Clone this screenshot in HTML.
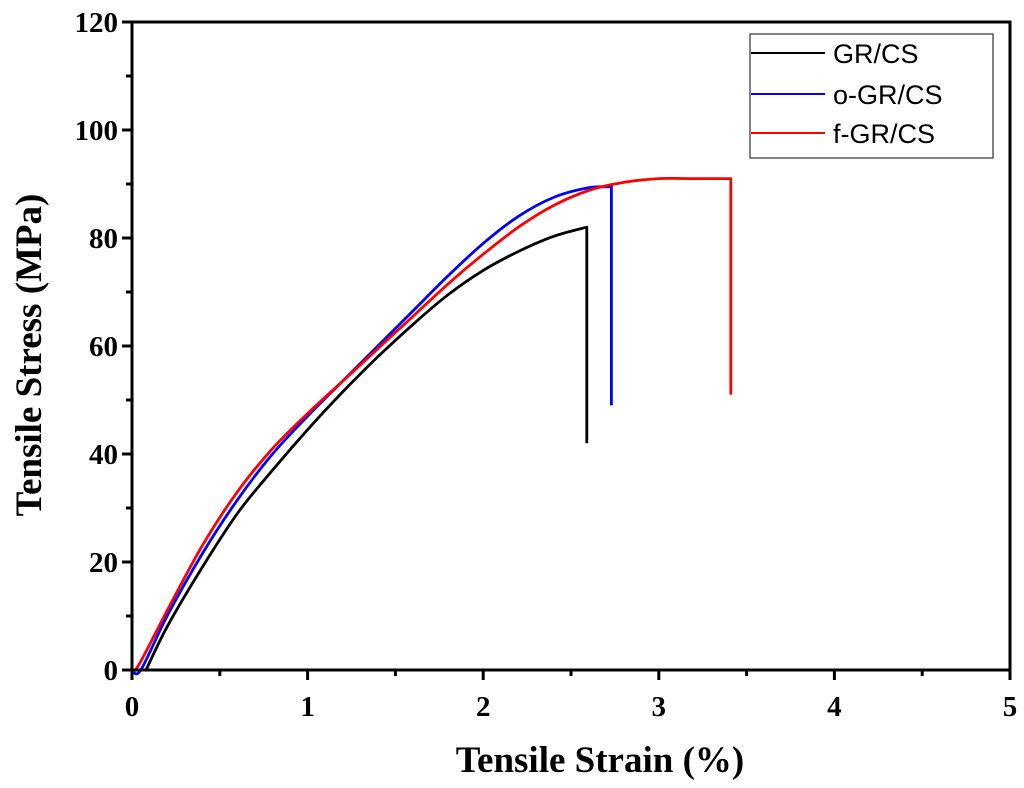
<!DOCTYPE html>
<html><head><meta charset="utf-8"><style>
html,body{margin:0;padding:0;background:#fff;}
svg{display:block;}
.tick{font-family:"Liberation Serif",serif;font-weight:bold;font-size:29px;fill:#000;}
.title{font-family:"Liberation Serif",serif;font-weight:bold;font-size:37px;fill:#000;}
.leg{font-family:"Liberation Sans",sans-serif;font-size:27px;fill:#000;}
</style></head><body>
<svg id="chart" width="1024" height="788" viewBox="0 0 1024 788" xmlns="http://www.w3.org/2000/svg">
<g id="marks"></g>
<g id="axes"></g>
<text class="title" x="600" y="772" text-anchor="middle">Tensile Strain (%)</text>
<text class="title" transform="translate(41,355) rotate(-90)" text-anchor="middle">Tensile Stress (MPa)</text>
<g>
<rect x="750" y="34" width="243" height="124" fill="#fff" stroke="#333" stroke-width="1.2"/>
<line x1="751" y1="53" x2="825" y2="53" stroke="#000" stroke-width="2"/>
<text class="leg" x="833" y="63">GR/CS</text>
<line x1="751" y1="94" x2="825" y2="94" stroke="#0000ff" stroke-width="2"/>
<text class="leg" x="833" y="104">o-GR/CS</text>
<line x1="751" y1="133" x2="825" y2="133" stroke="#ff0000" stroke-width="2"/>
<text class="leg" x="833" y="143">f-GR/CS</text>
</g>
</svg>
<script>
const xTicks=[0,1,2,3,4,5];
const yTicks=[0,20,40,60,80,100,120];
const grX=[0.08,0.2,0.4,0.6,0.8,1,1.2,1.4,1.6,1.8,2,2.2,2.4,2.59,2.59];
const grY=[0,8,19,29,37,44.5,51.5,58,64,69.5,74,77.5,80.3,82,42];
const oX=[0,0.05,0.2,0.4,0.6,0.8,1,1.2,1.4,1.6,1.8,2,2.2,2.4,2.6,2.73,2.73];
const oY=[0,0,10,21.5,31.5,40,47,53.5,60,66.5,73,79,84,87.5,89.3,89.5,49];
const fX=[0,0.04,0.2,0.4,0.6,0.8,1,1.2,1.4,1.6,1.8,2,2.2,2.4,2.6,2.8,3,3.2,3.41,3.41];
const fY=[0,1,11,23,33,41,47.5,53.5,59.5,65.5,71.5,77,82,86,88.8,90.3,91,91,91,51];
const X0=132,X1=1010,Y0=670,Y1=22;
const sx=v=>X0+(v-0)/(5-0)*(X1-X0);
const sy=v=>Y0-(v-0)/(120-0)*(Y0-Y1);
const NS="http://www.w3.org/2000/svg";
const marks=document.getElementById('marks'),axes=document.getElementById('axes');
function mk(t,a,p){const e=document.createElementNS(NS,t);for(const k in a)e.setAttribute(k,a[k]);p.appendChild(e);return e;}
function series(xs,ys,col,name){
 const P=xs.map((x,i)=>[sx(x),sy(ys[i])]);
 const n=P.length-1; // last point is the drop
 let d='M'+P[0][0].toFixed(1)+','+P[0][1].toFixed(1);
 for(let i=0;i<n-1;i++){
  const p0=P[Math.max(i-1,0)],p1=P[i],p2=P[i+1],p3=P[Math.min(i+2,n-1)];
  const c1=[p1[0]+(p2[0]-p0[0])/6,p1[1]+(p2[1]-p0[1])/6];
  const c2=[p2[0]-(p3[0]-p1[0])/6,p2[1]-(p3[1]-p1[1])/6];
  d+=' C'+c1.map(v=>v.toFixed(1)).join(',')+' '+c2.map(v=>v.toFixed(1)).join(',')+' '+p2.map(v=>v.toFixed(1)).join(',');
 }
 d+=' L'+P[n][0].toFixed(1)+','+P[n][1].toFixed(1);
 const el=mk('path',{d:d,fill:'none',stroke:col,'stroke-width':2.8,'stroke-linejoin':'round'},marks);
 
 
}
series(grX,grY,'#000','series-gr-cs');
series(oX,oY,'#0000ff','series-o-gr-cs');
series(fX,fY,'#ff0000','series-f-gr-cs');
const frame=mk('rect',{x:X0,y:Y1,width:X1-X0,height:Y0-Y1,fill:'none',stroke:'#000','stroke-width':3},axes);


xTicks.forEach((t,i)=>{
 mk('line',{x1:sx(t),y1:Y0,x2:sx(t),y2:Y0+10,stroke:'#000','stroke-width':3},axes);
 if(i<xTicks.length-1) mk('line',{x1:sx(t+0.5),y1:Y0,x2:sx(t+0.5),y2:Y0+6,stroke:'#000','stroke-width':3},axes);
 const tx=mk('text',{x:sx(t),y:716,'text-anchor':'middle',class:'tick'},axes);
 tx.textContent=t;
 
 
});
yTicks.forEach((t,i)=>{
 mk('line',{x1:X0-10,y1:sy(t),x2:X0,y2:sy(t),stroke:'#000','stroke-width':3},axes);
 if(i<yTicks.length-1) mk('line',{x1:X0-6,y1:sy(t+10),x2:X0,y2:sy(t+10),stroke:'#000','stroke-width':3},axes);
 const tx=mk('text',{x:118,y:sy(t)+10,'text-anchor':'end',class:'tick'},axes);
 tx.textContent=t;
 
 
});
</script>
</body></html>
